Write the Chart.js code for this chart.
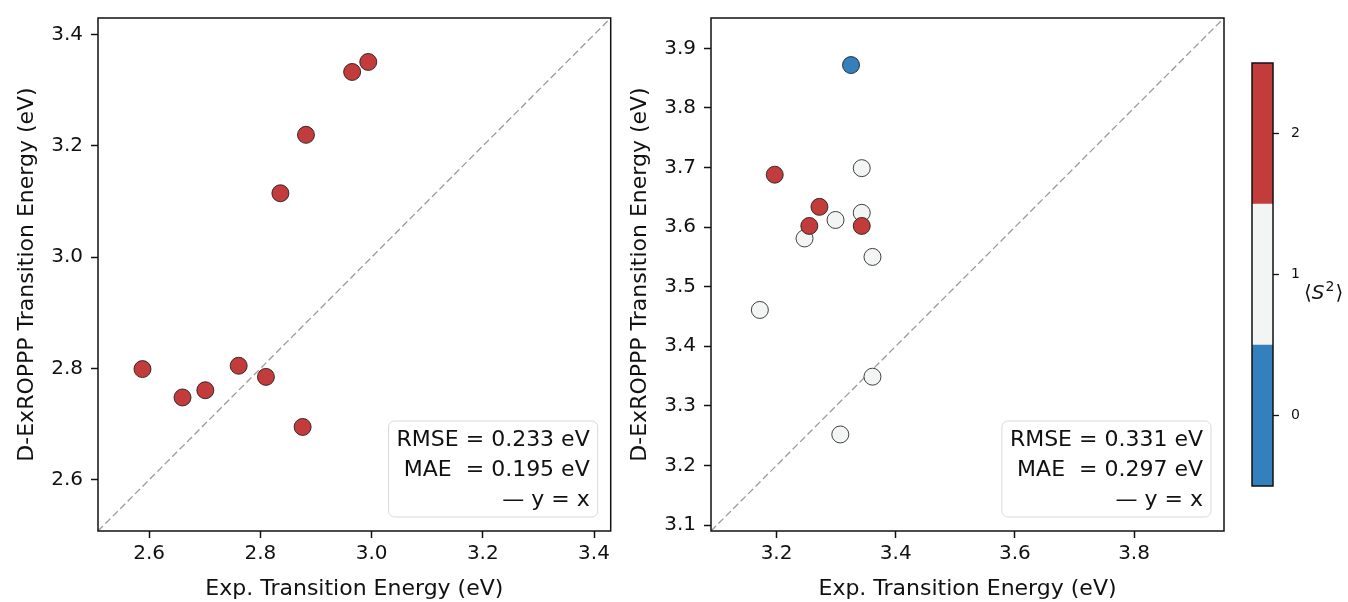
<!DOCTYPE html>
<html>
<head>
<meta charset="utf-8">
<script src="https://cdn.jsdelivr.net/npm/chart.js@4.4.1/dist/chart.umd.min.js"></script>
<style>
  html, body { margin: 0; padding: 0; background: #fff; }
  #wrap { position: relative; width: 1348px; height: 602px; }
  .panel { position: absolute; top: 0; }
</style>
</head>
<body>
<div id="wrap">
  <canvas id="left" class="panel" style="left:0" width="620" height="602"></canvas>
  <canvas id="right" class="panel" style="left:620px" width="620" height="602"></canvas>
  <canvas id="cbar" class="panel" style="left:1240px" width="108" height="602"></canvas>
</div>
<script>
// left panel data
var leftExp  = [2.588, 2.660, 2.701, 2.761, 2.810, 2.876, 2.836, 2.882, 2.965, 2.994];
var leftCalc = [2.799, 2.748, 2.761, 2.805, 2.785, 2.695, 3.115, 3.220, 3.333, 3.351];
var leftS2   = [2, 2, 2, 2, 2, 2, 2, 2, 2, 2];
var leftLim  = [2.508, 3.430];
var leftTicks = [2.6, 2.8, 3.0, 3.2, 3.4];
var leftStats = ['RMSE = 0.233 eV', 'MAE  = 0.195 eV', '\u2014 y = x'];

// right panel data (drawn in this order)
var rightExp  = [3.343, 3.343, 3.299, 3.247, 3.361, 3.172, 3.361, 3.307, 3.197, 3.272, 3.255, 3.343, 3.325];
var rightCalc = [3.699, 3.624, 3.612, 3.581, 3.550, 3.461, 3.349, 3.252, 3.688, 3.634, 3.602, 3.602, 3.872];
var rightS2   = [1, 1, 1, 1, 1, 1, 1, 1, 2, 2, 2, 2, 0];
var rightLim  = [3.090, 3.951];
var rightXTicks = [3.2, 3.4, 3.6, 3.8];
var rightYTicks = [3.1, 3.2, 3.3, 3.4, 3.5, 3.6, 3.7, 3.8, 3.9];
var rightStats = ['RMSE = 0.331 eV', 'MAE  = 0.297 eV', '\u2014 y = x'];

// colour bar
var s2Levels = [0, 1, 2];
var s2Colors = ['#3480bd', '#f3f5f4', '#c33c3c'];

var FONT = 'DejaVu Sans';
Chart.defaults.font.family = FONT;
Chart.defaults.color = '#111';

var framePlugin = {
  id: 'frame',
  afterDraw: function(chart) {
    var a = chart.chartArea, ctx = chart.ctx;
    ctx.save();
    ctx.strokeStyle = '#111';
    ctx.lineWidth = 1.5;
    ctx.strokeRect(a.left, a.top, a.right - a.left, a.bottom - a.top);
    ctx.restore();
  }
};

var statPlugin = {
  id: 'statBox',
  afterDatasetsDraw: function(chart) {
    var opts = chart.options.plugins.statBox;
    if (!opts || !opts.lines) return;
    var ctx = chart.ctx, a = chart.chartArea;
    ctx.save();
    ctx.font = '22px "' + FONT + '"';
    var w = 0;
    opts.lines.forEach(function(l) { w = Math.max(w, ctx.measureText(l).width); });
    var lh = 30, padX = 8;
    var right = a.right - 13, bottom = a.bottom - 14;
    var h = lh * opts.lines.length + 6;
    var left = right - w - 2 * padX, top = bottom - h;
    ctx.beginPath();
    ctx.roundRect(left, top, right - left, h, 6);
    ctx.fillStyle = 'rgba(255,255,255,0.85)';
    ctx.fill();
    ctx.strokeStyle = '#d9d9d9';
    ctx.lineWidth = 1;
    ctx.stroke();
    ctx.fillStyle = '#111';
    ctx.textAlign = 'right';
    ctx.textBaseline = 'middle';
    opts.lines.forEach(function(l, i) {
      ctx.fillText(l, right - padX, top + 3 + lh * (i + 0.5) + 1);
    });
    ctx.restore();
  }
};

function pointsOf(xs, ys) {
  return xs.map(function(x, i) { return { x: x, y: ys[i] }; });
}

function fixedTicks(list) {
  return function(scale) {
    scale.ticks = list.map(function(v) { return { value: v }; });
  };
}

function scatterPanel(id, xs, ys, s2, lim, xTicks, yTicks, stats, yAxisWidth, titlePad, rightPad) {
  var ctx = document.getElementById(id).getContext('2d');
  var tickFont = { size: 20, family: FONT };
  var labelFont = { size: 22, family: FONT };
  return new Chart(ctx, {
    type: 'scatter',
    data: {
      datasets: [{
        type: 'line',
        data: [{ x: lim[0], y: lim[0] }, { x: lim[1], y: lim[1] }],
        borderColor: '#9a9a9a',
        borderWidth: 1.3,
        borderDash: [7, 3.5],
        pointRadius: 0,
        order: 2
      }, {
        data: pointsOf(xs, ys),
        backgroundColor: s2.map(function(v) { return s2Colors[v]; }),
        borderColor: '#111',
        borderWidth: 0.8,
        pointRadius: 8.5,
        pointHoverRadius: 8.5,
        order: 1
      }]
    },
    options: {
      responsive: false,
      animation: false,
      layout: { padding: { left: 0, top: 18, right: rightPad, bottom: 0 } },
      plugins: {
        legend: { display: false },
        tooltip: { enabled: false },
        statBox: { lines: stats }
      },
      scales: {
        x: {
          type: 'linear', min: lim[0], max: lim[1],
          afterBuildTicks: fixedTicks(xTicks),
          afterFit: function(s) { s.height = 71; s.paddingLeft = 0; s.paddingRight = 0; },
          border: { display: false },
          grid: { drawOnChartArea: false, tickLength: 7, tickColor: '#111', tickWidth: 1.5 },
          ticks: { font: tickFont, color: '#111', padding: 4, maxRotation: 0,
                   callback: function(v) { return v.toFixed(1); } },
          title: { display: true, text: 'Exp. Transition Energy (eV)', font: labelFont, color: '#111',
                   padding: { top: 0, bottom: 0 } }
        },
        y: {
          type: 'linear', min: lim[0], max: lim[1],
          afterBuildTicks: fixedTicks(yTicks),
          afterFit: function(s) { s.width = yAxisWidth; s.paddingTop = 0; s.paddingBottom = 0; },
          border: { display: false },
          grid: { drawOnChartArea: false, tickLength: 7, tickColor: '#111', tickWidth: 1.5 },
          ticks: { font: tickFont, color: '#111', padding: 8,
                   callback: function(v) { return v.toFixed(1); } },
          title: { display: true, text: 'D-ExROPPP Transition Energy (eV)', font: labelFont, color: '#111',
                   padding: { top: titlePad, bottom: 0 } }
        }
      }
    },
    plugins: [framePlugin, statPlugin]
  });
}

scatterPanel('left', leftExp, leftCalc, leftS2, leftLim, leftTicks, leftTicks, leftStats, 98, 14, 9);
scatterPanel('right', rightExp, rightCalc, rightS2, rightLim, rightXTicks, rightYTicks, rightStats, 91, 7, 16);

// colour bar label
var cbarLabelPlugin = {
  id: 'cbarLabel',
  afterDraw: function(chart) {
    var ctx = chart.ctx;
    var x = 64, y = 292;
    ctx.save();
    ctx.fillStyle = '#111';
    ctx.textBaseline = 'alphabetic';
    ctx.font = '20px "' + FONT + '"';
    ctx.fillText('\u27e8', x, y + 7);
    x += ctx.measureText('\u27e8').width;
    ctx.font = 'italic 20px "' + FONT + '"';
    ctx.fillText('S', x, y + 7);
    x += ctx.measureText('S').width + 1;
    ctx.font = '14px "' + FONT + '"';
    ctx.fillText('2', x, y - 1);
    x += ctx.measureText('2').width + 1;
    ctx.font = '20px "' + FONT + '"';
    ctx.fillText('\u27e9', x, y + 7);
    ctx.restore();
  }
};

new Chart(document.getElementById('cbar').getContext('2d'), {
  type: 'bar',
  data: {
    labels: [''],
    datasets: s2Levels.map(function(v, i) {
      return {
        data: [[v - 0.5, v + 0.5]],
        backgroundColor: s2Colors[i],
        borderWidth: 0,
        barPercentage: 1,
        categoryPercentage: 1,
        grouped: false
      };
    })
  },
  options: {
    responsive: false,
    animation: false,
    layout: { padding: { left: 12, top: 63, right: 0, bottom: 116 } },
    plugins: { legend: { display: false }, tooltip: { enabled: false } },
    scales: {
      x: { display: false },
      y: {
        position: 'right', min: -0.5, max: 2.5,
        afterBuildTicks: fixedTicks(s2Levels),
        afterFit: function(s) { s.width = 75; },
        border: { display: false },
        grid: { drawOnChartArea: false, tickLength: 6, tickColor: '#111', tickWidth: 1.3 },
        ticks: { font: { size: 14, family: FONT }, color: '#111', padding: 12 }
      }
    }
  },
  plugins: [framePlugin, cbarLabelPlugin]
});
</script>
</body>
</html>
